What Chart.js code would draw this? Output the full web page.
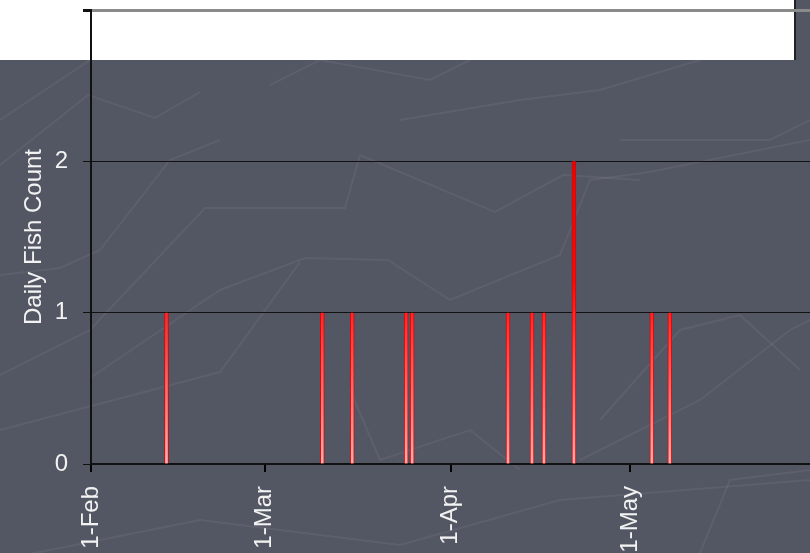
<!DOCTYPE html>
<html>
<head>
<meta charset="utf-8">
<script src="https://cdn.jsdelivr.net/npm/chart.js@4.4.0/dist/chart.umd.min.js"></script>
<style>
  body { margin: 0; background: #535663; }
  #wrap { width: 810px; height: 553px; }
</style>
</head>
<body>
<div id="wrap"><canvas id="fishChart" width="810" height="553"></canvas></div>
<script>
// Fish counts per day (leap year: Feb has 29 days)
const fishDates = ['2012-02-13', '2012-03-10', '2012-03-15', '2012-03-24', '2012-03-25',
                   '2012-04-10', '2012-04-14', '2012-04-16', '2012-04-21', '2012-05-04', '2012-05-07'];
const fishCounts = [1, 1, 1, 1, 1, 1, 1, 1, 2, 1, 1];
const monthTicks = ['2012-02-01', '2012-03-01', '2012-04-01', '2012-05-01'];
const monthLabels = ['1-Feb', '1-Mar', '1-Apr', '1-May'];
const axisStart = '2012-02-01';
const axisEnd = '2012-05-31';
const yTicks = [0, 1, 2, 3];

// days since the start of the axis
function dayOffset(d) {
    const [y, m, day] = d.split('-').map(Number);
    const [y0, m0, d0] = axisStart.split('-').map(Number);
    return (Date.UTC(y, m - 1, day) - Date.UTC(y0, m0 - 1, d0)) / 86400000;
}

const tickDays = monthTicks.map(dayOffset);
const points = fishDates.map((d, i) => ({ x: dayOffset(d) + 0.6, y: fishCounts[i] }));

// faint background texture
const texture = [
    [[0, 165], [88, 95], [155, 118], [200, 92]],
    [[0, 375], [90, 330], [205, 208], [345, 208], [360, 155], [495, 212], [563, 175], [640, 180]],
    [[90, 378], [220, 290], [305, 258], [388, 260], [450, 300], [560, 255], [590, 180], [650, 172], [810, 140]],
    [[0, 430], [220, 372], [300, 262]],
    [[90, 60], [0, 120]],
    [[270, 85], [320, 60], [430, 80], [470, 60]],
    [[0, 560], [200, 520], [400, 545], [560, 500], [810, 480]],
    [[350, 390], [380, 460], [470, 430], [520, 470]],
    [[580, 460], [700, 400], [790, 330], [810, 320]],
    [[600, 420], [680, 330], [740, 315], [800, 370]],
    [[620, 140], [770, 140], [810, 120]],
    [[700, 553], [730, 480], [810, 470]],
    [[0, 275], [60, 268], [100, 250], [170, 160], [220, 140]],
    [[400, 120], [520, 100], [600, 90], [700, 60]]
];

const backdrop = {
    id: 'backdrop',
    beforeDraw(chart) {
        const c = chart.ctx;
        c.save();
        c.fillStyle = '#535663';
        c.fillRect(0, 0, chart.width, chart.height);
        c.strokeStyle = 'rgba(255,255,255,0.06)';
        c.lineWidth = 2;
        texture.forEach(line => {
            c.beginPath();
            line.forEach((p, i) => i ? c.lineTo(p[0], p[1]) : c.moveTo(p[0], p[1]));
            c.stroke();
        });
        c.fillStyle = '#ffffff';
        c.fillRect(0, 0, 795, 60);
        c.strokeStyle = '#222';
        c.lineWidth = 2;
        c.beginPath();
        c.moveTo(795, 0);
        c.lineTo(795, 60);
        c.stroke();
        c.restore();
    }
};

function barFill(context) {
    const area = context.chart.chartArea;
    if (!area) return '#e00000';
    const g = context.chart.ctx.createLinearGradient(0, area.top, 0, area.bottom);
    g.addColorStop(0, '#c80000');
    g.addColorStop(0.6, '#ee1010');
    g.addColorStop(1, '#ffb0b0');
    return g;
}

const labelFont = { family: 'Liberation Sans, Arial', size: 24 };

new Chart(document.getElementById('fishChart'), {
    type: 'bar',
    data: {
        datasets: [{
            data: points,
            backgroundColor: barFill,
            borderColor: '#e00000',
            borderWidth: { left: 1, right: 1, top: 0, bottom: 0 },
            borderSkipped: false,
            barThickness: 4
        }]
    },
    options: {
        responsive: false,
        animation: false,
        layout: { padding: { top: 10, right: 0, left: 0, bottom: 0 } },
        plugins: {
            legend: { display: false },
            tooltip: { enabled: false }
        },
        scales: {
            x: {
                type: 'linear',
                offset: false,
                min: 0,
                max: dayOffset(axisEnd),
                afterBuildTicks: scale => {
                    scale.ticks = tickDays.map(v => ({ value: v }));
                },
                afterFit: scale => {
                    scale.height = 89;
                    scale.paddingLeft = 0;
                    scale.paddingRight = 0;
                },
                ticks: {
                    color: '#f2f2f2',
                    font: labelFont,
                    minRotation: 90,
                    maxRotation: 90,
                    padding: 14,
                    autoSkip: false,
                    callback: value => monthLabels[tickDays.indexOf(value)]
                },
                grid: {
                    drawOnChartArea: false,
                    color: '#000',
                    tickLength: 8,
                    lineWidth: 2,
                    offset: false
                },
                border: { display: true, color: '#111', width: 2 }
            },
            y: {
                min: 0,
                max: 3,
                afterBuildTicks: scale => {
                    scale.ticks = yTicks.map(v => ({ value: v }));
                },
                afterFit: scale => {
                    scale.width = 91;
                    scale.paddingTop = 0;
                    scale.paddingBottom = 0;
                },
                ticks: {
                    color: '#f2f2f2',
                    font: labelFont,
                    padding: 15,
                    // the top label sits on the white band and is not shown
                    callback: value => value === 3 ? '' : value
                },
                grid: {
                    color: ctx => ctx.tick && ctx.tick.value === 3 ? '#8a8a8a' : '#111',
                    lineWidth: ctx => ctx.tick && ctx.tick.value === 3 ? 3 : 1,
                    tickColor: '#111',
                    tickLength: 8
                },
                border: { display: true, color: '#111', width: 2 },
                title: {
                    display: true,
                    text: 'Daily Fish Count',
                    color: '#f2f2f2',
                    font: labelFont,
                    padding: { top: 20, bottom: 0 }
                }
            }
        }
    },
    plugins: [backdrop]
});
</script>
</body>
</html>
